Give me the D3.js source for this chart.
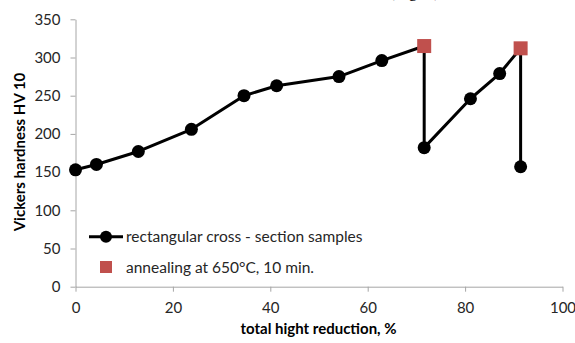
<!DOCTYPE html>
<html><head><meta charset="utf-8">
<script src="https://cdn.jsdelivr.net/npm/d3@7"></script>
<style>body{margin:0;background:#fff}svg{display:block}</style>
</head><body>
<script>
const reduction = [0, 4.3, 12.9, 23.8, 34.6, 41.3, 54.1, 62.9, 71.6, 71.6, 81.1, 87.1, 91.4, 91.4];
const hardness  = [153, 160, 177, 206, 250, 263, 275, 296, 315, 182, 246, 279, 312, 157];
const circleIdx = [0,1,2,3,4,5,6,7,9,10,11,13];
const annealX = [71.6, 91.4];
const annealY = [315, 312];
const xTicks = [0,20,40,60,80,100];
const yTicks = [0,50,100,150,200,250,300,350];
const seriesNames = ["rectangular cross - section samples", "annealing at 650°C, 10 min."];

const W=575,H=343;
const svg=d3.select("body").append("svg").attr("width",W).attr("height",H);
const font="Lato, 'Open Sans', sans-serif";
const x=d3.scaleLinear().domain([0,100]).range([75.5,562.5]);
const y=d3.scaleLinear().domain([0,350]).range([286.7,19.3]);
const axisCol="#a6a6a6";

// clipped caption fragment at top (cut off in the reference as well)
svg.append("text").attr("x",440).attr("y",-3).attr("text-anchor","end")
  .attr("font-family","'Liberation Serif', serif").attr("font-size",17).attr("fill","#000")
  .text("hardness (Fig. 6)");

const ga=svg.append("g").attr("transform",`translate(${x(0)},0)`)
  .call(d3.axisLeft(y).tickValues(yTicks).tickSize(5).tickSizeOuter(0).tickPadding(10));
const gb=svg.append("g").attr("transform",`translate(0,${y(0)})`)
  .call(d3.axisBottom(x).tickValues(xTicks).tickSize(5).tickSizeOuter(0).tickPadding(11));
[ga,gb].forEach(g=>{
  g.selectAll("path,line").attr("stroke",axisCol).attr("stroke-width",1);
  g.selectAll("text").attr("font-family",font).attr("font-size",15).attr("fill","#262626");
});

const line=d3.line().x((d,i)=>x(reduction[i])).y((d,i)=>y(hardness[i]));
svg.append("path").datum(hardness).attr("d",line).attr("fill","none")
  .attr("stroke","#000").attr("stroke-width",3).attr("stroke-linejoin","round");
svg.append("g").selectAll("circle").data(circleIdx).join("circle")
  .attr("cx",i=>x(reduction[i])).attr("cy",i=>y(hardness[i])).attr("r",6.5).attr("fill","#000");
svg.append("g").selectAll("rect").data(annealX).join("rect")
  .attr("x",(d,i)=>x(d)-7).attr("y",(d,i)=>y(annealY[i])-7).attr("width",14).attr("height",14)
  .attr("fill","#c0504d");

// legend
svg.append("line").attr("x1",89).attr("x2",123).attr("y1",236.7).attr("y2",236.7).attr("stroke","#000").attr("stroke-width",3);
svg.append("circle").attr("cx",106).attr("cy",236.7).attr("r",6).attr("fill","#000");
svg.append("rect").attr("x",100).attr("y",261).attr("width",12).attr("height",12).attr("fill","#c0504d");
svg.append("text").attr("x",126).attr("y",242).attr("font-family",font).attr("font-size",15.5).attr("fill","#262626").text(seriesNames[0]);
svg.append("text").attr("x",126).attr("y",272.5).attr("font-family",font).attr("font-size",15.5).attr("fill","#262626").text(seriesNames[1]);

// titles
svg.append("text").attr("x",318.5).attr("y",334).attr("text-anchor","middle")
  .attr("font-family",font).attr("font-weight","bold").attr("font-size",15).text("total hight reduction, %");
svg.append("text").attr("transform","translate(25,152) rotate(-90)").attr("text-anchor","middle")
  .attr("font-family",font).attr("font-weight","bold").attr("font-size",15).text("Vickers hardness HV 10");
</script>
</body></html>
